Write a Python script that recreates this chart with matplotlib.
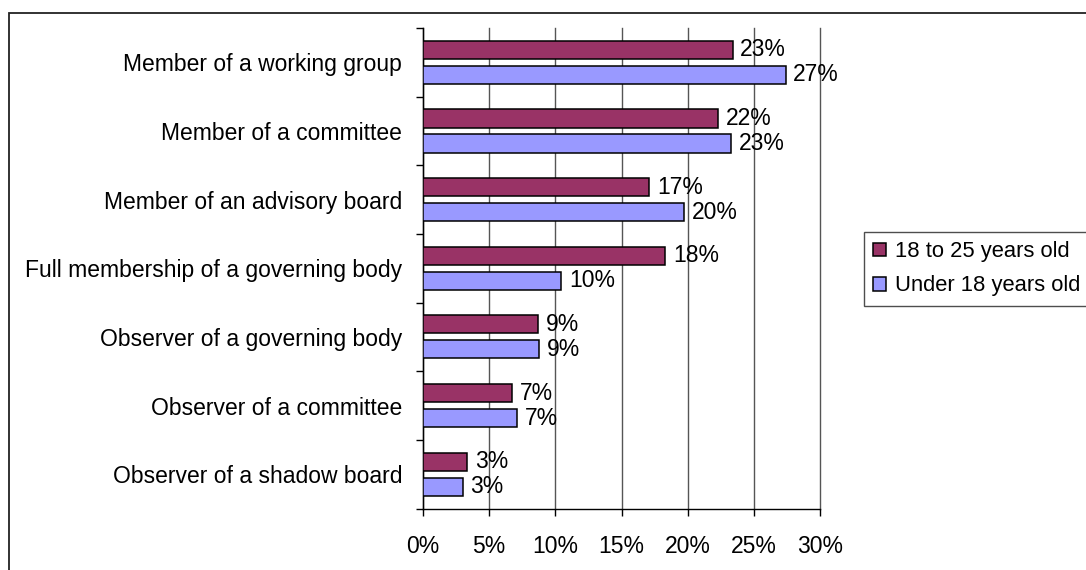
import numpy as np
import matplotlib.pyplot as plt
from matplotlib.patches import Rectangle

plt.rcParams['font.family'] = ['Liberation Sans', 'DejaVu Sans']

# survey data: share of respondents per participation role (%)
roles = ['Member of a working group', 'Member of a committee',
         'Member of an advisory board', 'Full membership of a governing body',
         'Observer of a governing body', 'Observer of a committee',
         'Observer of a shadow board']
age_18_25 = [23.4, 22.3, 17.1, 18.3, 8.7, 6.75, 3.35]
under_18 = [27.4, 23.3, 19.75, 10.45, 8.75, 7.1, 3.0]
series_names = ['18 to 25 years old', 'Under 18 years old']
x_ticks = [0, 5, 10, 15, 20, 25, 30]

W, H = 1086, 570
fig = plt.figure(figsize=(W / 100, H / 100), dpi=100)
fig.patch.set_facecolor('white')

# outer chart frame (runs off the right and bottom edges)
fig.patches.append(Rectangle((9 / W, -0.1), 1.2, 1 - 13 / H + 0.1,
                             transform=fig.transFigure, fill=False,
                             edgecolor='#222222', linewidth=1.3))

ax = fig.add_axes([423 / W, 1 - 508.5 / H, 397 / W, 480.5 / H])
fs = 16.5

y = np.arange(len(roles))
h = 0.265
off = 0.182
b1 = ax.barh(y - off, age_18_25, height=h, color='#993366',
             edgecolor='black', linewidth=1.1, label=series_names[0], zorder=3)
b2 = ax.barh(y + off, under_18, height=h, color='#9999FF',
             edgecolor='black', linewidth=1.1, label=series_names[1], zorder=3)

for bars, vals in ((b1, age_18_25), (b2, under_18)):
    for rect, v in zip(bars, vals):
        ax.annotate('%.0f%%' % v, (v, rect.get_y() + rect.get_height() / 2),
                    xytext=(5.5, 0), textcoords='offset points',
                    va='center', ha='left', fontsize=fs, zorder=4)

ax.set_xlim(0, 30)
ax.set_ylim(len(roles) - 0.5, -0.5)
ax.set_xticks(x_ticks)
ax.set_xticklabels(['%d%%' % t for t in x_ticks], fontsize=fs)
ax.xaxis.grid(True, color='#555555', linewidth=1.0, zorder=0)
for gl in ax.xaxis.get_gridlines():
    gl.set_clip_on(False)

# category boundaries get the tick marks, names sit at the centres
ax.set_yticks(np.arange(len(roles) + 1) - 0.5)
ax.set_yticklabels([])
ax.set_yticks(y, minor=True)
ax.set_yticklabels(roles, minor=True, fontsize=fs)
ax.tick_params(axis='y', which='minor', length=0, pad=15)
ax.tick_params(axis='y', which='major', length=5, width=1, direction='out')
ax.tick_params(axis='x', length=5, width=1, direction='out', pad=14)

for s in ('top', 'right'):
    ax.spines[s].set_visible(False)
for s in ('left', 'bottom'):
    ax.spines[s].set_color('black')
    ax.spines[s].set_linewidth(1.0)

leg = fig.legend(handles=[b1, b2], loc='upper left',
                 bbox_to_anchor=(864 / W, 1 - 232 / H), fontsize=15.8,
                 frameon=True, fancybox=False, borderpad=0.42,
                 handlelength=0.6, handleheight=0.6, handletextpad=0.38,
                 labelspacing=0.6, borderaxespad=0)
leg.get_frame().set_edgecolor('#222222')
leg.get_frame().set_linewidth(1.0)

fig.savefig('out.png', dpi=100)
